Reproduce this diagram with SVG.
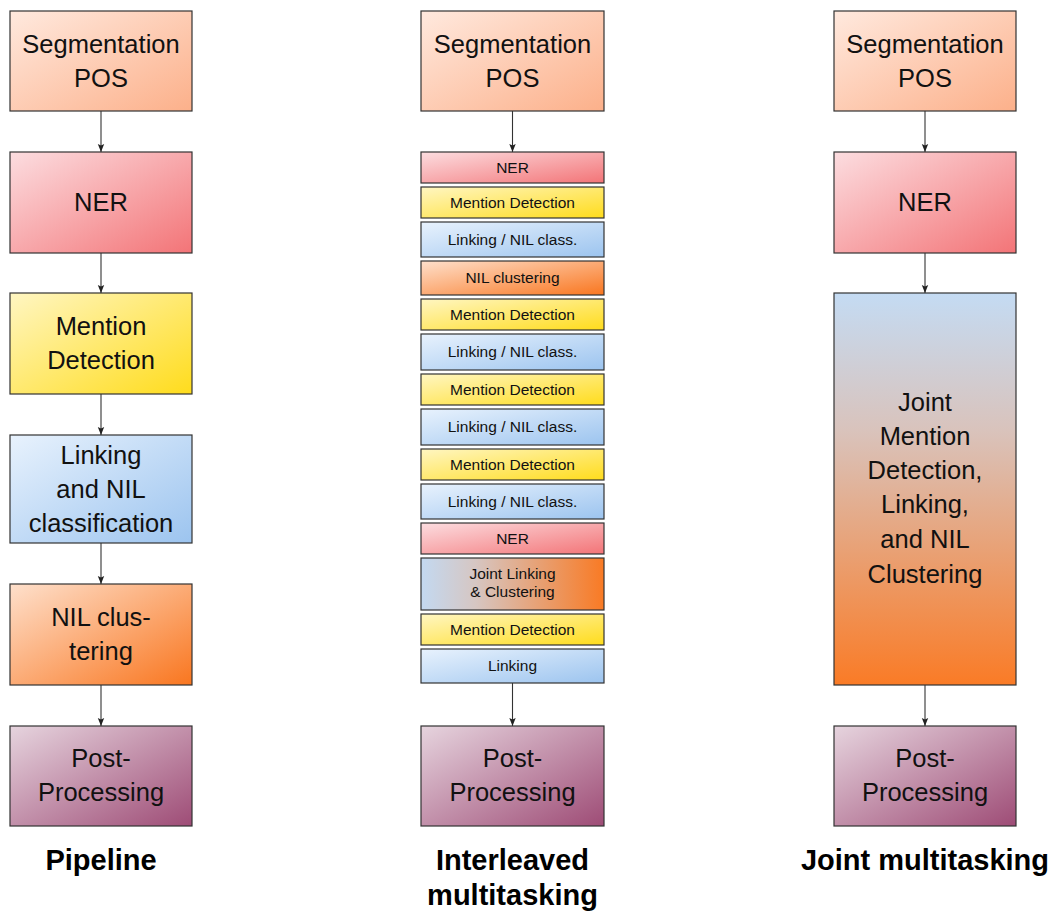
<svg xmlns="http://www.w3.org/2000/svg" width="1057" height="916" viewBox="0 0 1057 916">
<style>
.box{stroke:#333;stroke-width:1.2}
.big{font-family:"Liberation Sans",Arial,sans-serif;font-size:25.5px;fill:#111;text-anchor:middle}
.sm{font-family:"Liberation Sans",Arial,sans-serif;font-size:15.5px;fill:#111;text-anchor:middle}
.lbl{font-family:"Liberation Sans",Arial,sans-serif;font-size:29px;font-weight:bold;fill:#000;text-anchor:middle}
.conn line{stroke:#333;stroke-width:1.1;marker-end:url(#arr)}
</style>
<defs>
<marker id="arr" viewBox="0 0 8 8" refX="8" refY="4" markerWidth="8" markerHeight="8" markerUnits="userSpaceOnUse" orient="auto">
<path d="M0,0.8 L8,4 L0,7.2 L1.6,4 Z" fill="#222"/>
</marker>
<linearGradient id="gSeg" x1="0" y1="0" x2="1" y2="1"><stop offset="0" stop-color="#ffe9de"/><stop offset="1" stop-color="#fcb08a"/></linearGradient>
<linearGradient id="gNer" x1="0" y1="0" x2="1" y2="1"><stop offset="0" stop-color="#fcdde0"/><stop offset="1" stop-color="#f37477"/></linearGradient>
<linearGradient id="gMd" x1="0" y1="0" x2="1" y2="1"><stop offset="0" stop-color="#fff6c2"/><stop offset="1" stop-color="#ffdc1c"/></linearGradient>
<linearGradient id="gLk" x1="0" y1="0" x2="1" y2="1"><stop offset="0" stop-color="#e8f2fd"/><stop offset="1" stop-color="#9cc4ef"/></linearGradient>
<linearGradient id="gNil" x1="0" y1="0" x2="1" y2="1"><stop offset="0" stop-color="#fee0cc"/><stop offset="1" stop-color="#f9761f"/></linearGradient>
<linearGradient id="gPost" x1="0" y1="0" x2="1" y2="1"><stop offset="0" stop-color="#e6d4de"/><stop offset="1" stop-color="#9e4c76"/></linearGradient>
<linearGradient id="gJoint" x1="0" y1="0" x2="0" y2="1"><stop offset="0" stop-color="#c4dbf3"/><stop offset="0.35" stop-color="#d9c3bc"/><stop offset="1" stop-color="#fa7b26"/></linearGradient>
<linearGradient id="gJL" x1="0" y1="0" x2="1" y2="0"><stop offset="0" stop-color="#c3d9f1"/><stop offset="0.3" stop-color="#d6c6c2"/><stop offset="1" stop-color="#f97a24"/></linearGradient>
</defs>

<g class="conn" id="connectors">
<line x1="101" y1="111" x2="101" y2="152"/>
<line x1="101" y1="253" x2="101" y2="293"/>
<line x1="101" y1="394" x2="101" y2="435"/>
<line x1="101" y1="543" x2="101" y2="584"/>
<line x1="101" y1="685" x2="101" y2="726"/>
<line x1="512.5" y1="111" x2="512.5" y2="152"/>
<line x1="512.5" y1="683" x2="512.5" y2="726"/>
<line x1="925" y1="111" x2="925" y2="152"/>
<line x1="925" y1="253" x2="925" y2="293"/>
<line x1="925" y1="685" x2="925" y2="726"/>
</g>

<!-- Pipeline column -->
<g id="p-seg"><rect class="box" x="10" y="11" width="182" height="100" fill="url(#gSeg)"/><text class="big" x="101" y="53">Segmentation</text><text class="big" x="101" y="87">POS</text></g>
<g id="p-ner"><rect class="box" x="10" y="152" width="182" height="101" fill="url(#gNer)"/><text class="big" x="101" y="211">NER</text></g>
<g id="p-md"><rect class="box" x="10" y="293" width="182" height="101" fill="url(#gMd)"/><text class="big" x="101" y="335">Mention</text><text class="big" x="101" y="369">Detection</text></g>
<g id="p-lk"><rect class="box" x="10" y="435" width="182" height="108" fill="url(#gLk)"/><text class="big" x="101" y="464">Linking</text><text class="big" x="101" y="498">and NIL</text><text class="big" x="101" y="532">classification</text></g>
<g id="p-nil"><rect class="box" x="10" y="584" width="182" height="101" fill="url(#gNil)"/><text class="big" x="101" y="626">NIL clus-</text><text class="big" x="101" y="660">tering</text></g>
<g id="p-post"><rect class="box" x="10" y="726" width="182" height="100" fill="url(#gPost)"/><text class="big" x="101" y="767">Post-</text><text class="big" x="101" y="801">Processing</text></g>
<g id="lbl-pipeline"><text class="lbl" x="101" y="870">Pipeline</text></g>

<!-- Interleaved column -->
<g id="i-seg"><rect class="box" x="421" y="11" width="183" height="100" fill="url(#gSeg)"/><text class="big" x="512.5" y="53">Segmentation</text><text class="big" x="512.5" y="87">POS</text></g>
<g id="i-ner1"><rect class="box" x="421" y="152" width="183" height="31" fill="url(#gNer)"/><text class="sm" x="512.5" y="173">NER</text></g>
<g id="i-md1"><rect class="box" x="421" y="187" width="183" height="31" fill="url(#gMd)"/><text class="sm" x="512.5" y="208">Mention Detection</text></g>
<g id="i-lk1"><rect class="box" x="421" y="222" width="183" height="35" fill="url(#gLk)"/><text class="sm" x="512.5" y="245">Linking / NIL class.</text></g>
<g id="i-nil"><rect class="box" x="421" y="261" width="183" height="34" fill="url(#gNil)"/><text class="sm" x="512.5" y="283">NIL clustering</text></g>
<g id="i-md2"><rect class="box" x="421" y="299" width="183" height="31" fill="url(#gMd)"/><text class="sm" x="512.5" y="320">Mention Detection</text></g>
<g id="i-lk2"><rect class="box" x="421" y="334" width="183" height="36" fill="url(#gLk)"/><text class="sm" x="512.5" y="357">Linking / NIL class.</text></g>
<g id="i-md3"><rect class="box" x="421" y="374" width="183" height="31" fill="url(#gMd)"/><text class="sm" x="512.5" y="395">Mention Detection</text></g>
<g id="i-lk3"><rect class="box" x="421" y="409" width="183" height="36" fill="url(#gLk)"/><text class="sm" x="512.5" y="432">Linking / NIL class.</text></g>
<g id="i-md4"><rect class="box" x="421" y="449" width="183" height="31" fill="url(#gMd)"/><text class="sm" x="512.5" y="470">Mention Detection</text></g>
<g id="i-lk4"><rect class="box" x="421" y="484" width="183" height="35" fill="url(#gLk)"/><text class="sm" x="512.5" y="507">Linking / NIL class.</text></g>
<g id="i-ner2"><rect class="box" x="421" y="523" width="183" height="31" fill="url(#gNer)"/><text class="sm" x="512.5" y="544">NER</text></g>
<g id="i-joint"><rect class="box" x="421" y="558" width="183" height="52" fill="url(#gJL)"/><text class="sm" x="512.5" y="579">Joint Linking</text><text class="sm" x="512.5" y="597">&amp; Clustering</text></g>
<g id="i-md5"><rect class="box" x="421" y="614" width="183" height="31" fill="url(#gMd)"/><text class="sm" x="512.5" y="635">Mention Detection</text></g>
<g id="i-lk5"><rect class="box" x="421" y="649" width="183" height="34" fill="url(#gLk)"/><text class="sm" x="512.5" y="671">Linking</text></g>
<g id="i-post"><rect class="box" x="421" y="726" width="183" height="100" fill="url(#gPost)"/><text class="big" x="512.5" y="767">Post-</text><text class="big" x="512.5" y="801">Processing</text></g>
<g id="lbl-interleaved"><text class="lbl" x="512.5" y="870">Interleaved</text><text class="lbl" x="512.5" y="905">multitasking</text></g>

<!-- Joint column -->
<g id="j-seg"><rect class="box" x="834" y="11" width="182" height="100" fill="url(#gSeg)"/><text class="big" x="925" y="53">Segmentation</text><text class="big" x="925" y="87">POS</text></g>
<g id="j-ner"><rect class="box" x="834" y="152" width="182" height="101" fill="url(#gNer)"/><text class="big" x="925" y="211">NER</text></g>
<g id="j-joint"><rect class="box" x="834" y="293" width="182" height="392" fill="url(#gJoint)"/>
<text class="big" x="925" y="411">Joint</text><text class="big" x="925" y="445">Mention</text><text class="big" x="925" y="479">Detection,</text><text class="big" x="925" y="513">Linking,</text><text class="big" x="925" y="548">and NIL</text><text class="big" x="925" y="583">Clustering</text></g>
<g id="j-post"><rect class="box" x="834" y="726" width="182" height="100" fill="url(#gPost)"/><text class="big" x="925" y="767">Post-</text><text class="big" x="925" y="801">Processing</text></g>
<g id="lbl-joint"><text class="lbl" x="925" y="870">Joint multitasking</text></g>
</svg>
